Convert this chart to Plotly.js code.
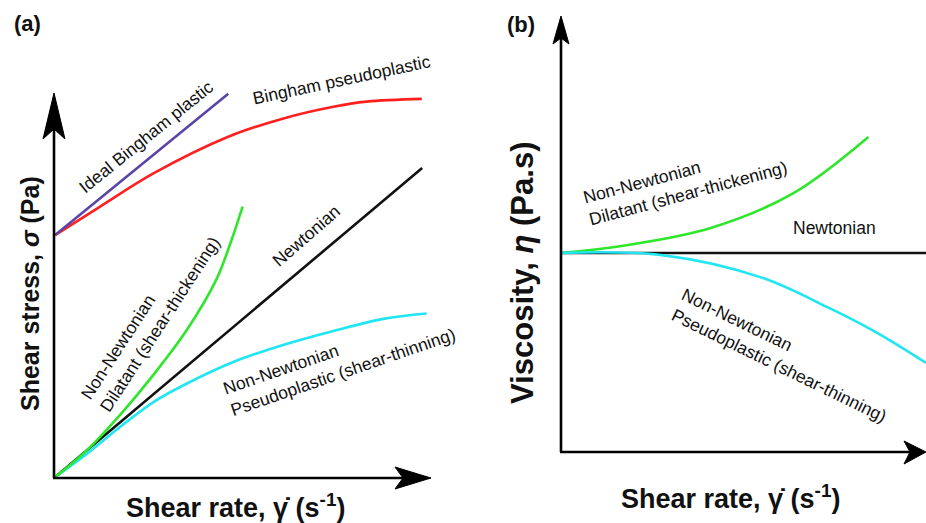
<!DOCTYPE html>
<html>
<head>
<meta charset="utf-8">
<script src="https://cdn.plot.ly/plotly-3.0.1.min.js"></script>
<style>html,body{margin:0;padding:0;background:#fff;}#chart{width:926px;height:523px;}</style>
</head>
<body>
<div id="chart"></div>
<script>
// ---------- Data (arbitrary units) ----------
// Panel (a): shear stress vs shear rate
const newtonA_x = [0, 9.74];
const newtonA_y = [0, 7.95];
const idealBingham_x = [0.03, 4.61];
const idealBingham_y = [6.23, 9.85];
const binghamPseudo_x = [0.03, 1.22, 2.63, 4.61, 6.07, 7.39, 8.27, 9.73];
const binghamPseudo_y = [6.23, 6.96, 7.81, 8.75, 9.22, 9.52, 9.65, 9.72];
const dilatantA_x = [0, 0.88, 1.76, 2.65, 3.53, 4.30, 4.66, 4.99];
const dilatantA_y = [0, 0.72, 1.63, 2.67, 3.82, 5.10, 6.00, 6.96];
const pseudoA_x = [0, 0.88, 1.76, 2.65, 3.53, 4.76, 6.06, 7.39, 8.71, 9.86];
const pseudoA_y = [0, 0.63, 1.32, 1.96, 2.43, 2.98, 3.41, 3.77, 4.08, 4.22];
// Panel (b): viscosity vs shear rate
const newtonB_x = [0, 10];
const newtonB_y = [4.575, 4.575];
const dilatantB_x = [0, 1.83, 4.10, 6.37, 8.42];
const dilatantB_y = [4.575, 4.76, 5.15, 5.95, 7.24];
const pseudoB_x = [0, 2.73, 5.46, 7.30, 8.66, 10];
const pseudoB_y = [4.575, 4.53, 4.02, 3.33, 2.74, 2.05];

// ---------- Geometry helpers ----------
const W = 926, H = 523;
const PX = x => x / W;
const PY = y => 1 - y / H;
const A = {x0: 54, y0: 478, sx: 37.8, sy: 39, left: 40, right: 445, top: 80, bottom: 490};
const B = {x0: 561, y0: 452, sx: 36.5, sy: 43.5, left: 548, right: 926, top: 10, bottom: 462};
function axes(P) {
  return {
    xd: [PX(P.left), PX(P.right)],
    xr: [(P.left - P.x0) / P.sx, (P.right - P.x0) / P.sx],
    yd: [PY(P.bottom), PY(P.top)],
    yr: [(P.y0 - P.bottom) / P.sy, (P.y0 - P.top) / P.sy]
  };
}
const aA = axes(A), aB = axes(B);

const COL = {black: '#111111', purple: '#5a44a6', red: '#ff1f1f', green: '#2ee62a', cyan: '#1fe6f2'};
const LW = 2.6;
function tr(x, y, color, xa, ya) {
  return {x: x, y: y, xaxis: xa, yaxis: ya, mode: 'lines', type: 'scatter',
          line: {color: color, width: LW, shape: 'spline', smoothing: 1},
          hoverinfo: 'skip', showlegend: false};
}
const data = [
  tr(newtonA_x, newtonA_y, COL.black, 'x', 'y'),
  tr(pseudoA_x, pseudoA_y, COL.cyan, 'x', 'y'),
  tr(dilatantA_x, dilatantA_y, COL.green, 'x', 'y'),
  tr(binghamPseudo_x, binghamPseudo_y, COL.red, 'x', 'y'),
  tr(idealBingham_x, idealBingham_y, COL.purple, 'x', 'y'),
  tr(newtonB_x, newtonB_y, COL.black, 'x2', 'y2'),
  tr(dilatantB_x, dilatantB_y, COL.green, 'x2', 'y2'),
  tr(pseudoB_x, pseudoB_y, COL.cyan, 'x2', 'y2')
];

// axis lines + arrowheads (decoration, in paper coords)
function line(x0, y0, x1, y1) {
  return {type: 'line', xref: 'paper', yref: 'paper', x0: PX(x0), y0: PY(y0), x1: PX(x1), y1: PY(y1),
          line: {color: '#000', width: 2.6}};
}
function head(pts) {
  const d = pts.map((p, i) => (i ? 'L' : 'M') + PX(p[0]).toFixed(5) + ',' + PY(p[1]).toFixed(5)).join(' ') + ' Z';
  return {type: 'path', xref: 'paper', yref: 'paper', path: d, fillcolor: '#000', line: {color: '#000', width: 1}};
}
const shapes = [
  line(54, 478, 54, 128), head([[54, 93], [65, 139], [54, 129], [43, 139]]),
  line(53, 478, 404, 478), head([[431, 478], [395, 489], [403, 478], [395, 467]]),
  line(561, 452, 561, 38), head([[561, 16], [569, 44], [561, 38], [553, 44]]),
  line(560, 452, 911, 452), head([[926, 452], [904, 464], [910, 452], [904, 441]])
];

const FF = 'Arial, "Liberation Sans", sans-serif';
function txt(t, x, y, size, angle, opts) {
  opts = opts || {};
  return Object.assign({text: t, xref: 'paper', yref: 'paper', x: PX(x), y: PY(y), showarrow: false,
    xanchor: 'center', yanchor: 'middle', textangle: angle, align: opts.align || 'center',
    font: {family: FF, size: size, color: '#111'}}, opts.extra || {});
}
const FS = 17.5;
const annotations = [
  txt('<b>(a)</b>', 27, 23, 22, 0),
  txt('<b>(b)</b>', 521, 24, 22, 0),
  txt('Ideal Bingham plastic', 146, 137, FS, -39),
  txt('Bingham pseudoplastic', 341, 80, FS, -12),
  txt('Newtonian', 306, 236, FS, -41),
  txt('Non-Newtonian<br>Dilatant (shear-thickening)', 150, 318, FS, -57, {align: 'left'}),
  txt('Non-Newtonian<br>Pseudoplastic (shear-thinning)', 339, 361, FS, -19, {align: 'left'}),
  txt('Non-Newtonian<br>Dilatant (shear-thickening)', 685, 182, FS, -15, {align: 'left'}),
  txt('Newtonian', 834, 228, FS, 0),
  txt('Non-Newtonian<br>Pseudoplastic (shear-thinning)', 784, 355, FS, 26, {align: 'left'}),
  txt('<b>Shear stress, <i>σ</i> (Pa)</b>', 30, 294, 25, -90),
  txt('<b>Shear rate, γ̇ (s<sup>-1</sup>)</b>', 235, 506, 27, 0),
  txt('<b>Shear rate, γ̇ (s<sup>-1</sup>)</b>', 730, 497, 27, 0),
  txt('<b>Viscosity, <i>η</i> (Pa.s)</b>', 522, 273, 31, -90)
];

const hidden = {visible: false, fixedrange: true};
const layout = {
  width: W, height: H, margin: {l: 0, r: 0, t: 0, b: 0},
  paper_bgcolor: '#fff', plot_bgcolor: 'rgba(0,0,0,0)', showlegend: false,
  xaxis: Object.assign({domain: aA.xd, range: aA.xr}, hidden),
  yaxis: Object.assign({domain: aA.yd, range: aA.yr}, hidden),
  xaxis2: Object.assign({domain: aB.xd, range: aB.xr, anchor: 'y2'}, hidden),
  yaxis2: Object.assign({domain: aB.yd, range: aB.yr, anchor: 'x2'}, hidden),
  shapes: shapes, annotations: annotations
};
Plotly.newPlot('chart', data, layout, {staticPlot: true, displayModeBar: false});
</script>
</body>
</html>
